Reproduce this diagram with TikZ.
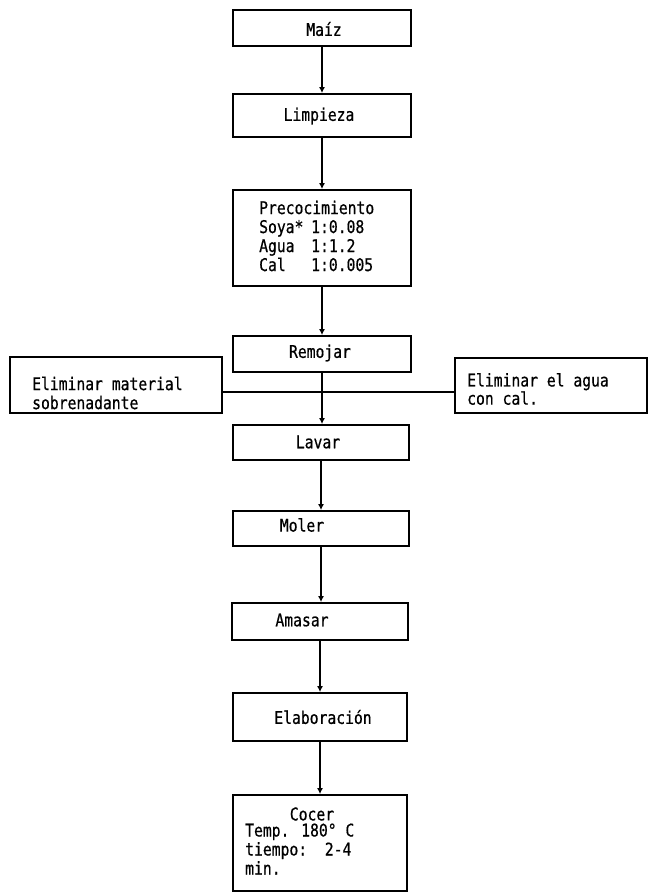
\documentclass[tikz,border=0pt]{standalone}
\usepackage{fontspec}
\newfontfamily\tw{DejaVu Sans Mono}[FakeStretch=0.84,FakeBold=0.6]
\usetikzlibrary{arrows.meta,calc}
\begin{document}
\begin{tikzpicture}[x=1pt,y=-1pt,
  box/.style={draw,line width=1.8pt,rectangle,inner sep=0pt},
  txt/.style={inner sep=0pt,font=\tw\fontsize{17.5}{19}\selectfont},
  conn/.style={line width=1.8pt,-{Latex[length=6pt,width=6pt]}},
  plain/.style={line width=1.8pt}]
\useasboundingbox (0,0) rectangle (648,893);
\fill[white] (0,0) rectangle (648,893);
% boxes
\node[box,minimum width=178pt,minimum height=36pt] (maiz) at (322,28) {};
\node[box,minimum width=178pt,minimum height=43pt] (limp) at (322,115.5) {};
\node[box,minimum width=178pt,minimum height=96pt] (pre) at (322,238) {};
\node[box,minimum width=178pt,minimum height=36pt] (rem) at (322,354) {};
\node[box,minimum width=212pt,minimum height=56pt] (left) at (116,385) {};
\node[box,minimum width=192pt,minimum height=55pt] (right) at (551,385.5) {};
\node[box,minimum width=176pt,minimum height=35pt] (lav) at (321,442.5) {};
\node[box,minimum width=176pt,minimum height=35pt] (mol) at (321,528.5) {};
\node[box,minimum width=176pt,minimum height=37pt] (ama) at (320,621.5) {};
\node[box,minimum width=174pt,minimum height=48pt] (ela) at (320,717) {};
\node[box,minimum width=174pt,minimum height=96pt] (coc) at (320,843) {};
% texts
\node[txt] (tmaiz) at (324,29) {Maíz};
\node[txt] (tlimp) at (319,116) {Limpieza};
\node[txt,anchor=west,align=left] (tpre) at (259,236)
  {Precocimiento\\\makebox[52pt][l]{Soya*}1:0.08\\\makebox[52pt][l]{Agua}1:1.2\\\makebox[52pt][l]{Cal}1:0.005};
\node[txt] (trem) at (320,353) {Remojar};
\node[txt,anchor=west,align=left] (tleft) at (32,393) {Eliminar material\\sobrenadante};
\node[txt,anchor=west,align=left,font=\tw\fontsize{17.5}{13.5}\selectfont] (tright) at (467,389) {Eliminar el agua\\con cal.};
\node[txt] (tlav) at (318,442) {Lavar};
\node[txt] (tmol) at (302,525) {Moler};
\node[txt] (tama) at (302,620) {Amasar};
\node[txt] (tela) at (323,717) {Elaboración};
\node[txt] (tcoc) at (312,814) {Cocer};
\node[txt,anchor=west,align=left] (tcoc2) at (245,849) {Temp. 180° C\\tiempo:~~2-4\\min.};
% connectors
\draw[conn] (maiz.south) -- (maiz.south |- limp.north);
\draw[conn] (limp.south) -- (limp.south |- pre.north);
\draw[conn] (pre.south) -- (pre.south |- rem.north);
\draw[conn] (rem.south) -- (rem.south |- lav.north);
\draw[conn] (lav.south) -- (lav.south |- mol.north);
\draw[conn] (mol.south) -- (mol.south |- ama.north);
\draw[conn] (ama.south) -- (ama.south |- ela.north);
\draw[conn] (ela.south) -- (ela.south |- coc.north);
\coordinate (h) at (322,392);
\draw[plain] (left.east |- h) -- (right.west |- h);
\end{tikzpicture}
\end{document}
